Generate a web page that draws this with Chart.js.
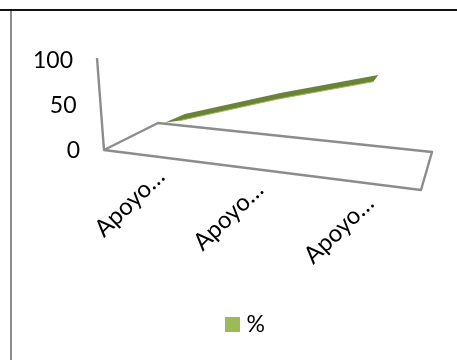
<!DOCTYPE html>
<html>
<head>
<meta charset="utf-8">
<script src="https://cdn.jsdelivr.net/npm/chart.js@4"></script>
<style>
  html, body { margin: 0; background: #fff; overflow: hidden; }
  #myChart { position: absolute; left: 0; top: 0; }
  .rule-top { position: absolute; left: 0; top: 9px; width: 457px; height: 2px; background: #111; }
  .rule-left { position: absolute; left: 10px; top: 11px; width: 2px; height: 349px; background: #8c8c8c; }
</style>
</head>
<body>
<canvas id="myChart" width="457" height="360"></canvas>
<div class="rule-top"></div>
<div class="rule-left"></div>
<script>
var categories = ['Apoyo…', 'Apoyo…', 'Apoyo…'];
var percent = [12, 47, 78];
var yTicks = [0, 50, 100];

var font = 'Lato';
var grey = '#8c8c8c';
var green = '#9bbb59';
var frontSlope = 40 / 317;
var labelShift = [-2, -9, -4]; // perspective squeezes the left labels

// legend swatch, a canvas so the text can sit closer than the default gap
var swatch = document.createElement('canvas');
swatch.width = 15;
swatch.height = 15;
var sw = swatch.getContext('2d');
sw.fillStyle = green;
sw.fillRect(0, 0, 15, 15);

// series plane sits at the back of the 3D floor
function toBackPlane(ctx, area) {
  var a = 0.915, k = 0.1058, e = 41.3;
  ctx.transform(a, k * a, 0, 1, e, k * e - 27 - 158 * k + (149 - area.bottom));
}

var fake3d = {
  id: 'fake3d',
  afterLayout: function (chart) {
    chart.legend.left += 37;
    chart.legend.right += 37;
  },
  beforeDatasetsDraw: function (chart) {
    var c = chart.ctx, area = chart.chartArea;
    c.save();
    c.strokeStyle = grey;
    c.lineWidth = 2.4;
    c.lineJoin = 'round';
    c.beginPath();
    c.moveTo(area.left - 7, area.top - 2);
    c.lineTo(area.left, area.bottom);
    c.lineTo(area.right, area.bottom + 40);
    c.lineTo(area.right + 11, area.bottom + 2);
    c.lineTo(area.left + 54, area.bottom - 27);
    c.lineTo(area.left, area.bottom);
    c.stroke();
    c.restore();
  },
  beforeDatasetDraw: function (chart, args) {
    var c = chart.ctx, area = chart.chartArea;
    var pts = chart.getDatasetMeta(args.index).data;
    c.save();
    toBackPlane(c, area);
    // top surface of the area, seen almost edge on
    c.fillStyle = '#6b8338';
    c.beginPath();
    c.moveTo(pts[0].x - 22, area.bottom);
    pts.forEach(function (p) { c.lineTo(p.x, p.y); });
    for (var i = pts.length - 1; i >= 0; i--) c.lineTo(pts[i].x - 5, pts[i].y + 7);
    c.closePath();
    c.fill();
    c.translate(-5, 7);
  },
  afterDatasetDraw: function (chart) {
    chart.ctx.restore();
  },
  afterDraw: function (chart) {
    var c = chart.ctx, area = chart.chartArea;
    var x = chart.scales.x, y = chart.scales.y;
    c.save();
    c.fillStyle = '#000';
    c.font = '23px ' + font;
    c.textBaseline = 'middle';
    c.textAlign = 'right';
    yTicks.forEach(function (t) {
      c.fillText(String(t), 80 - 7 * t / 100, y.getPixelForValue(t) + 1);
    });
    c.font = '24px ' + font;
    categories.forEach(function (label, i) {
      var px = x.getPixelForValue(i);
      c.save();
      c.translate(px + 6 + labelShift[i], area.bottom + (px - area.left) * frontSlope + 16);
      c.rotate(-44 * Math.PI / 180);
      c.fillText(label, 0, 0);
      c.restore();
    });
    c.restore();
  }
};

var myChart = new Chart(document.getElementById('myChart'), {
  type: 'line',
  data: {
    labels: categories,
    datasets: [{
      label: '%',
      data: percent,
      borderColor: green,
      backgroundColor: green,
      borderWidth: 1,
      pointRadius: 0,
      fill: false,
      clip: false
    }]
  },
  options: {
    responsive: false,
    animation: false,
    layout: { padding: { top: 60, right: 36, left: 0, bottom: 14 } },
    plugins: {
      tooltip: { enabled: false },
      legend: {
        position: 'bottom',
        labels: {
          usePointStyle: true,
          pointStyleWidth: 5,
          boxHeight: 15,
          padding: 6,
          color: '#000',
          font: { family: font, size: 23 },
          generateLabels: function () {
            return [{ text: '%', pointStyle: swatch, fillStyle: green, strokeStyle: green, lineWidth: 0, datasetIndex: 0 }];
          }
        }
      }
    },
    scales: {
      x: {
        offset: true,
        grid: { display: false },
        border: { display: false },
        ticks: { display: false },
        afterFit: function (scale) { scale.height = 360 - 14 - 40 - 149; }
      },
      y: {
        min: 0,
        max: 100,
        grid: { display: false },
        border: { display: false },
        ticks: { display: false, stepSize: 50 },
        afterFit: function (scale) { scale.width = 104; }
      }
    }
  },
  plugins: [fake3d]
});
</script>
</body>
</html>
